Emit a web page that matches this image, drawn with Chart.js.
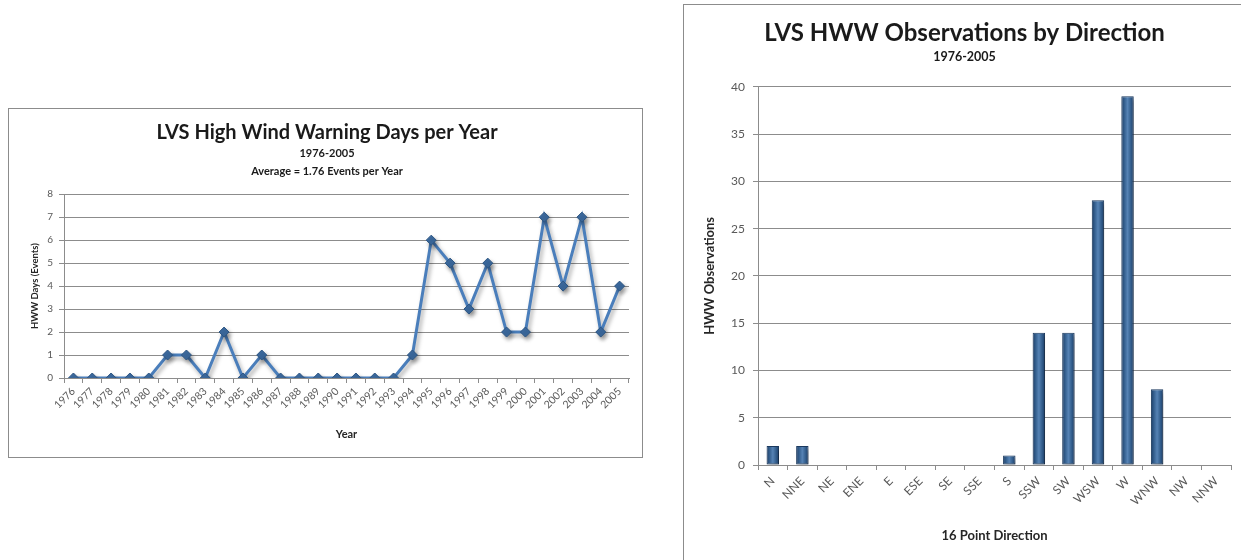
<!DOCTYPE html>
<html>
<head>
<meta charset="utf-8">
<script src="https://cdn.jsdelivr.net/npm/chart.js@4/dist/chart.umd.min.js"></script>
<style>
  body { margin: 0; background: #fff; width: 1241px; height: 560px; overflow: hidden; position: relative; font-family: Lato, sans-serif; }
  .box { position: absolute; border: 1px solid #8c8c8c; background: #fff; box-sizing: border-box; }
  #leftBox  { left: 8px;   top: 108px; width: 635px; height: 350px; }
  #rightBox { left: 683px; top: 4px;   width: 580px; height: 600px; }
  canvas { display: block; }
</style>
</head>
<body>
<div class="box" id="leftBox"><canvas id="yearChart"></canvas></div>
<div class="box" id="rightBox"><canvas id="dirChart"></canvas></div>
<script>
// ── Data ─────────────────────────────────────────────────────
const YEARS = ['1976','1977','1978','1979','1980','1981','1982','1983','1984','1985',
               '1986','1987','1988','1989','1990','1991','1992','1993','1994','1995',
               '1996','1997','1998','1999','2000','2001','2002','2003','2004','2005'];
const HWW_DAYS = [0,0,0,0,0,1,1,0,2,0,
                  1,0,0,0,0,0,0,0,1,6,
                  5,3,5,2,2,7,4,7,2,4];

const DIRECTIONS = ['N','NNE','NE','ENE','E','ESE','SE','SSE','S','SSW','SW','WSW','W','WNW','NW','NNW'];
const DIR_OBS    = [2,2,0,0,0,0,0,0,1,14,14,28,39,8,0,0];

const FONT = 'Lato, "Open Sans", sans-serif';
const TICK = '#595959';
const GRID = '#8c8c8c';
const BAR_PCT = 0.42;

// soft drop shadow under the marks, like the office chart
const shadowPlugin = {
  id: 'shadow',
  beforeDatasetsDraw(chart) {
    const c = chart.ctx;
    c.save();
    c.shadowColor = 'rgba(0,0,0,0.35)';
    c.shadowBlur = 4;
    c.shadowOffsetX = 2;
    c.shadowOffsetY = 3;
  },
  afterDatasetsDraw(chart) { chart.ctx.restore(); }
};

// cylinder-ish shading: gradient across each bar, placed from the x scale
function barFill(c) {
  const x = c.chart.scales.x;
  if (c.type !== 'data' || !x || !x.width) return '#2f5b8e';
  const cx = x.getPixelForValue(c.dataIndex);
  const w = x.width / DIRECTIONS.length * BAR_PCT;
  const g = c.chart.ctx.createLinearGradient(cx - w / 2, 0, cx + w / 2, 0);
  g.addColorStop(0, '#1b3c66');
  g.addColorStop(0.25, '#35608f');
  g.addColorStop(0.5, '#5683b5');
  g.addColorStop(0.75, '#35608f');
  g.addColorStop(1, '#1b3c66');
  return g;
}

// ── Left: HWW days per year ──────────────────────────────────
new Chart(document.getElementById('yearChart'), {
  type: 'line',
  data: {
    labels: YEARS,
    datasets: [{
      data: HWW_DAYS,
      borderColor: '#4a7ebb',
      borderWidth: 3,
      tension: 0,
      pointStyle: 'rectRot',
      pointRadius: 5,
      pointBackgroundColor: '#3c6a9f',
      pointBorderColor: '#2c5582',
      pointBorderWidth: 1
    }]
  },
  options: {
    responsive: true,
    maintainAspectRatio: false,
    animation: false,
    layout: { padding: { left: 16, right: 13, top: 0, bottom: 0 } },
    plugins: {
      legend: { display: false },
      tooltip: { enabled: false },
      title: {
        display: true,
        text: 'LVS High Wind Warning Days per Year',
        color: '#1a1a1a',
        font: { family: FONT, size: 20, weight: 'bold', lineHeight: 1.2 },
        padding: { top: 12, bottom: 0 }
      },
      subtitle: {
        display: true,
        text: ['1976-2005', 'Average = 1.76 Events per Year'],
        color: '#1a1a1a',
        font: { family: FONT, size: 11, weight: 'bold', lineHeight: 1.6 },
        padding: { top: 0, bottom: 14 }
      }
    },
    scales: {
      x: {
        offset: true,
        grid: { offset: true, drawOnChartArea: false, color: GRID, tickLength: 5 },
        border: { color: GRID },
        ticks: { color: TICK, font: { family: FONT, size: 10.5 }, minRotation: 45, maxRotation: 45, autoSkip: false, padding: 2 },
        title: { display: true, text: 'Year', color: '#262626', font: { family: FONT, size: 11, weight: 'bold' }, padding: { top: 4, bottom: 16 } },
        afterFit: s => { s.height = 79; }
      },
      y: {
        min: 0, max: 8,
        grid: { color: GRID, tickLength: 5 },
        border: { color: GRID },
        ticks: { stepSize: 1, color: TICK, font: { family: FONT, size: 10 }, padding: 6 },
        title: { display: true, text: 'HWW Days (Events)', color: '#262626', font: { family: FONT, size: 9.5, weight: 'bold' }, padding: { top: 4, bottom: 4 } },
        afterFit: s => { s.width = 39; }
      }
    }
  },
  plugins: [shadowPlugin]
});

// ── Right: HWW observations by direction ─────────────────────
new Chart(document.getElementById('dirChart'), {
  type: 'bar',
  data: {
    labels: DIRECTIONS,
    datasets: [{
      data: DIR_OBS,
      backgroundColor: barFill,
      borderColor: '#1b3a60',
      borderWidth: 1,
      borderSkipped: false,
      barPercentage: BAR_PCT,
      categoryPercentage: 1.0
    }]
  },
  options: {
    responsive: true,
    maintainAspectRatio: false,
    animation: false,
    layout: { padding: { left: 14, right: 31, top: 0, bottom: 43 } },
    plugins: {
      legend: { display: false },
      tooltip: { enabled: false },
      title: {
        display: true,
        text: 'LVS HWW Observations by Direction',
        color: '#1a1a1a',
        font: { family: FONT, size: 24, weight: 'bold', lineHeight: 1.2 },
        padding: { top: 14, bottom: 0 }
      },
      subtitle: {
        display: true,
        text: '1976-2005',
        color: '#1a1a1a',
        font: { family: FONT, size: 12.5, weight: 'bold', lineHeight: 1.2 },
        padding: { top: 2, bottom: 22 }
      }
    },
    scales: {
      x: {
        grid: { drawOnChartArea: false, color: GRID, tickLength: 5 },
        border: { color: GRID },
        ticks: { color: TICK, font: { family: FONT, size: 12 }, minRotation: 45, maxRotation: 45, autoSkip: false, padding: 4 },
        title: { display: true, text: '16 Point Direction', color: '#262626', font: { family: FONT, size: 13, weight: 'bold' }, padding: { top: 4, bottom: 16 } },
        afterFit: s => { s.height = 95; }
      },
      y: {
        min: 0, max: 40,
        grid: { color: GRID, tickLength: 5 },
        border: { color: GRID },
        ticks: { stepSize: 5, color: TICK, font: { family: FONT, size: 12 }, padding: 8 },
        title: { display: true, text: 'HWW Observations', color: '#262626', font: { family: FONT, size: 13, weight: 'bold' }, padding: { top: 4, bottom: 4 } },
        afterFit: s => { s.width = 60; }
      }
    }
  },
  plugins: [shadowPlugin]
});
</script>
</body>
</html>
